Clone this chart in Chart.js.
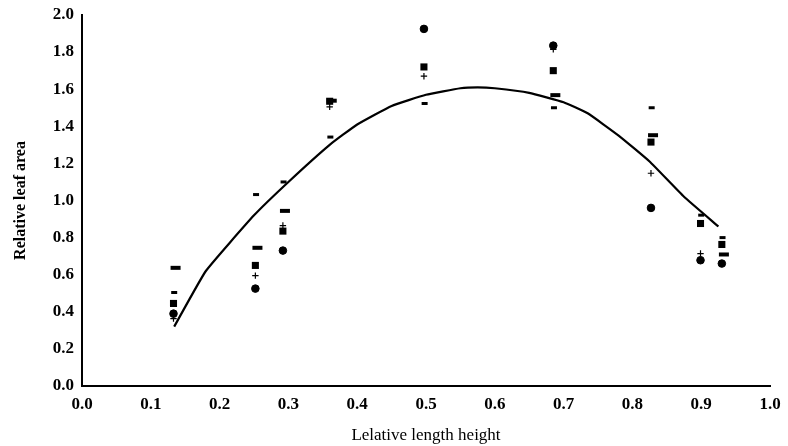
<!DOCTYPE html>
<html>
<head>
<meta charset="utf-8">
<script src="https://cdn.jsdelivr.net/npm/chart.js@4.4.0/dist/chart.umd.min.js"></script>
<style>
  html, body { margin: 0; padding: 0; background: #fff; }
  #wrap { width: 788px; height: 446px; }
</style>
</head>
<body>
<div id="wrap"><canvas id="myChart" width="788" height="446"></canvas></div>
<script>
// x position of each sampling group
var groupX  = [0.133, 0.252, 0.292, 0.360, 0.497, 0.685, 0.827, 0.899, 0.930];
// measured values, one array per marker type
var circleY = [0.39, 0.525, 0.73, null, 1.925, 1.835, 0.96, 0.678, 0.66];
var squareY = [0.445, 0.65, 0.835, 1.535, 1.72, 1.70, 1.315, 0.876, 0.763];
var plusY   = [0.363, 0.595, 0.865, 1.505, 1.67, 1.815, 1.147, 0.714, null];
var dashY   = [0.504, 1.032, 1.10, 1.342, 1.523, 1.50, 1.50, 0.921, 0.80];
var wideY   = [0.637, 0.745, 0.944, 1.538, null, 1.568, 1.352, null, 0.709];

// fitted curve
var curveX = [0.134, 0.18, 0.25, 0.30, 0.36, 0.40, 0.45, 0.50, 0.55, 0.575, 0.60, 0.65, 0.70, 0.735, 0.78, 0.825, 0.875, 0.925];
var curveY = [0.32, 0.62, 0.92, 1.10, 1.30, 1.41, 1.51, 1.57, 1.605, 1.61, 1.605, 1.58, 1.53, 1.47, 1.35, 1.21, 1.02, 0.86];

var xTicks = [0.0, 0.1, 0.2, 0.3, 0.4, 0.5, 0.6, 0.7, 0.8, 0.9, 1.0];
var yTicks = [0.0, 0.2, 0.4, 0.6, 0.8, 1.0, 1.2, 1.4, 1.6, 1.8, 2.0];

function toPoints(xs, ys, dx){
    var pts = [];
    for(var i = 0; i < xs.length; i++){
        if(ys[i] === null) continue;
        pts.push({x: xs[i] + (dx || 0), y: ys[i]});
    }
    return pts;
}

function markerSet(label, ys, style, radius, bw, dx){
    return {
        label: label,
        type: 'scatter',
        data: toPoints(groupX, ys, dx),
        pointStyle: style,
        pointRadius: radius,
        pointHoverRadius: radius,
        pointBackgroundColor: '#000',
        pointBorderColor: '#000',
        pointBorderWidth: bw,
        showLine: false
    };
}

var serif = "'Liberation Serif', 'Times New Roman', serif";

var ctx = document.getElementById('myChart').getContext('2d');
new Chart(ctx, {
    type: 'scatter',
    data: {
        datasets: [
            {
                label: 'fit',
                type: 'line',
                data: toPoints(curveX, curveY),
                borderColor: '#000',
                borderWidth: 2.2,
                pointRadius: 0,
                tension: 0.12,
                fill: false
            },
            markerSet('circle', circleY, 'circle', 3.8, 1, 0),
            markerSet('square', squareY, 'rect', 5, 0, 0),
            markerSet('plus', plusY, 'cross', 3.2, 1.2, 0),
            markerSet('dash', dashY, 'line', 3, 3, 0.001),
            markerSet('wide', wideY, 'line', 5, 4, 0.003)
        ]
    },
    options: {
        responsive: false,
        animation: false,
        layout: { padding: { top: 15, right: 18, left: 11, bottom: 0 } },
        plugins: {
            legend: { display: false },
            tooltip: { enabled: false }
        },
        scales: {
            x: {
                type: 'linear',
                min: 0,
                max: 1,
                afterBuildTicks: function(s){ s.ticks = xTicks.map(function(v){ return {value: v}; }); },
                afterFit: function(s){ s.height = 60; },
                grid: { display: false, drawOnChartArea: false, drawTicks: true, tickLength: 5, tickColor: '#000', tickWidth: 2 },
                border: { display: true, color: '#000', width: 2 },
                ticks: {
                    color: '#000',
                    padding: 3,
                    font: { family: serif, size: 17, weight: 'bold' },
                    callback: function(v){ return v.toFixed(1); }
                },
                title: {
                    display: true,
                    text: 'Lelative length height',
                    color: '#000',
                    padding: { top: 6, bottom: 0 },
                    font: { family: serif, size: 17 }
                }
            },
            y: {
                type: 'linear',
                min: 0,
                max: 2,
                afterBuildTicks: function(s){ s.ticks = yTicks.map(function(v){ return {value: v}; }); },
                afterFit: function(s){ s.width = 71; },
                grid: { display: false, drawOnChartArea: false, drawTicks: true, tickLength: 5, tickColor: '#000', tickWidth: 2 },
                border: { display: true, color: '#000', width: 2 },
                ticks: {
                    color: '#000',
                    padding: 3,
                    font: { family: serif, size: 17, weight: 'bold' },
                    callback: function(v){ return v.toFixed(1); }
                },
                title: {
                    display: true,
                    text: 'Relative leaf area',
                    color: '#000',
                    padding: { top: 0, bottom: 6 },
                    font: { family: serif, size: 16, weight: 'bold' }
                }
            }
        }
    }
});
</script>
</body>
</html>
